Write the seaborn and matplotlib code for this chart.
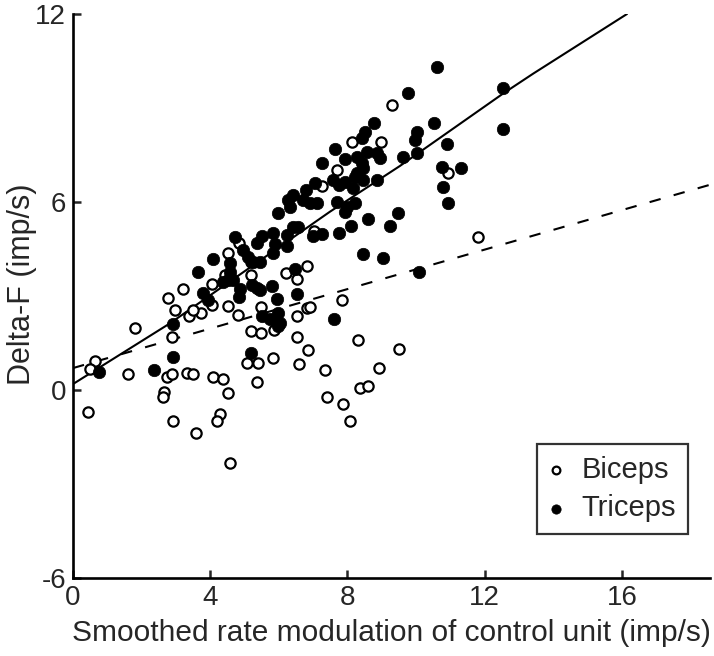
import matplotlib
matplotlib.use("Agg")
import matplotlib.pyplot as plt
import seaborn as sns
import numpy as np

# ---------------- data ----------------
biceps_x = [9.31, 8.12, 8.97, 7.69, 10.92, 7.25, 11.82, 7.04, 4.53, 4.85, 5.18, 5.18,
            3.22, 4.04, 4.43, 6.21, 6.81, 6.52, 3.39, 3.72, 3.51, 4.53, 4.80, 5.49,
            7.83, 6.81, 6.91, 6.54, 2.78, 2.97, 4.04, 1.81, 2.88, 5.18, 5.48, 5.87,
            6.54, 8.30, 6.84, 9.50, 5.82, 5.08, 5.40, 6.59, 7.35, 8.93, 0.64, 0.50,
            1.61, 2.73, 2.88, 3.33, 3.51, 4.09, 4.36, 5.36, 4.53, 2.65, 2.61, 8.37,
            8.61, 7.40, 7.86, 8.08, 0.43, 2.91, 4.29, 4.19, 3.59, 4.58]
biceps_y = [9.08, 7.92, 7.90, 7.02, 6.94, 6.51, 4.89, 5.07, 4.36, 4.70, 4.10, 3.66,
            3.21, 3.37, 3.67, 3.74, 3.96, 3.54, 2.36, 2.45, 2.55, 2.68, 2.40, 2.65,
            2.88, 2.61, 2.66, 2.36, 2.93, 2.55, 2.72, 1.97, 1.68, 1.88, 1.83, 1.92,
            1.68, 1.60, 1.28, 1.31, 1.03, 0.87, 0.87, 0.83, 0.64, 0.69, 0.93, 0.66,
            0.51, 0.43, 0.51, 0.55, 0.50, 0.40, 0.36, 0.27, -0.08, -0.05, -0.21, 0.07,
            0.13, -0.21, -0.46, -0.99, -0.70, -0.98, -0.78, -0.99, -1.36, -2.32]

triceps_x = [10.62, 9.76, 12.55, 12.55, 8.78, 10.53, 10.02, 9.97, 10.91, 8.51, 8.42,
             7.63, 7.93, 8.27, 8.56, 8.85, 8.95, 9.63, 10.02, 8.46, 8.27, 10.75, 11.30,
             7.93, 8.22, 8.46, 8.85, 10.80, 10.92, 7.69, 7.98, 8.22, 7.93, 8.61, 9.47,
             9.24, 8.10, 7.76, 8.46, 9.03, 10.10, 7.25, 7.59, 7.06, 6.79, 6.42, 6.28,
             6.71, 6.91, 7.10, 5.99, 6.33, 7.00, 7.25, 6.42, 6.57, 6.23, 5.84, 5.50,
             5.36, 4.72, 5.89, 6.23, 5.82, 4.97, 5.11, 5.26, 5.45, 4.07, 3.64, 4.58,
             4.58, 4.53, 4.38, 4.67, 4.87, 4.85, 5.21, 5.36, 5.45, 5.79, 5.94, 3.78,
             3.93, 6.52, 6.48, 5.52, 5.75, 5.97, 6.02, 5.98, 7.62, 2.92, 2.92, 2.37,
             0.76, 5.19, 7.76, 8.17, 8.42]
triceps_y = [10.30, 9.47, 9.63, 8.32, 8.53, 8.53, 8.24, 7.98, 7.85, 8.24, 8.03,
             7.68, 7.37, 7.45, 7.61, 7.55, 7.40, 7.43, 7.57, 7.08, 6.92, 7.13, 7.10,
             6.65, 6.81, 6.70, 6.70, 6.47, 5.98, 6.01, 5.85, 5.96, 5.69, 5.46, 5.66,
             5.23, 5.23, 5.00, 4.33, 4.22, 3.76, 7.24, 6.70, 6.62, 6.38, 6.22, 6.06,
             6.06, 5.96, 5.98, 5.66, 5.85, 4.92, 4.98, 5.21, 5.21, 4.95, 5.02, 4.92,
             4.70, 4.87, 4.65, 4.61, 4.38, 4.47, 4.25, 4.10, 4.10, 4.18, 3.76, 4.04,
             3.78, 3.51, 3.46, 3.51, 3.21, 2.98, 3.35, 3.24, 3.19, 3.32, 2.89, 3.10,
             2.88, 3.05, 3.85, 2.35, 2.28, 2.45, 2.15, 2.04, 2.28, 2.11, 1.06, 0.64,
             0.56, 1.17, 6.55, 6.45, 7.24]

# fitted lines
triceps_fit_x = [0.0, 2.83, 7.49, 9.53, 12.55, 13.42, 16.15]
triceps_fit_y = [0.19, 2.13, 5.69, 7.15, 9.47, 10.10, 12.0]
biceps_fit_x = [0.0, 18.57]
biceps_fit_y = [0.70, 6.55]

x_ticks = [0, 4, 8, 12, 16]
y_ticks = [-6, 0, 6, 12]
x_label = "Smoothed rate modulation of control unit (imp/s)"
y_label = "Delta-F (imp/s)"

# ---------------- style ----------------
sns.set_style("ticks")
plt.rcParams["font.family"] = ["Liberation Sans", "DejaVu Sans"]
plt.rcParams["axes.unicode_minus"] = False

W, H = 714, 656
fig = plt.figure(figsize=(W / 100, H / 100), dpi=100)
ax = fig.add_axes([73 / W, 1 - 578 / H, 637 / W, 564 / H])

sns.lineplot(x=triceps_fit_x, y=triceps_fit_y, ax=ax, color="black", linewidth=1.5,
             sort=False, estimator=None, zorder=2)
sns.lineplot(x=biceps_fit_x, y=biceps_fit_y, ax=ax, color="black", linewidth=1.5,
             sort=False, estimator=None, zorder=2)
ax.lines[-1].set_dashes((5.5, 6.5))

sns.scatterplot(x=biceps_x, y=biceps_y, ax=ax, marker="o", s=55, facecolor="white",
                edgecolor="black", linewidth=1.6, label="Biceps", zorder=3)
sns.scatterplot(x=triceps_x, y=triceps_y, ax=ax, marker="o", s=80, color="black",
                edgecolor="black", linewidth=0.5, label="Triceps", zorder=4)

ax.set_xlim(0, 18.57)
ax.set_ylim(-6, 12)
ax.set_xticks(x_ticks)
ax.set_yticks(y_ticks)
ax.tick_params(direction="in", length=6, width=1.8, labelsize=20, pad=5)
ax.tick_params(axis="y", pad=5)
for s in ["top", "right"]:
    ax.spines[s].set_visible(False)
for s in ["left", "bottom"]:
    ax.spines[s].set_linewidth(1.9)
    ax.spines[s].set_color("black")

ax.set_xlabel(x_label, fontsize=21.5, labelpad=6)
ax.set_ylabel(y_label, fontsize=22)
ax.yaxis.set_label_coords(-0.056, 0.52)

leg = ax.legend(loc="upper right", bbox_to_anchor=(0.9655, 0.2376), borderaxespad=0,
                fontsize=21, frameon=True, fancybox=False, markerscale=0.75,
                handletextpad=0.65, borderpad=0.4, labelspacing=0.36, handlelength=0.5)
leg.get_frame().set_edgecolor("black")
leg.get_frame().set_linewidth(1.6)

fig.savefig("out.png", dpi=100)
